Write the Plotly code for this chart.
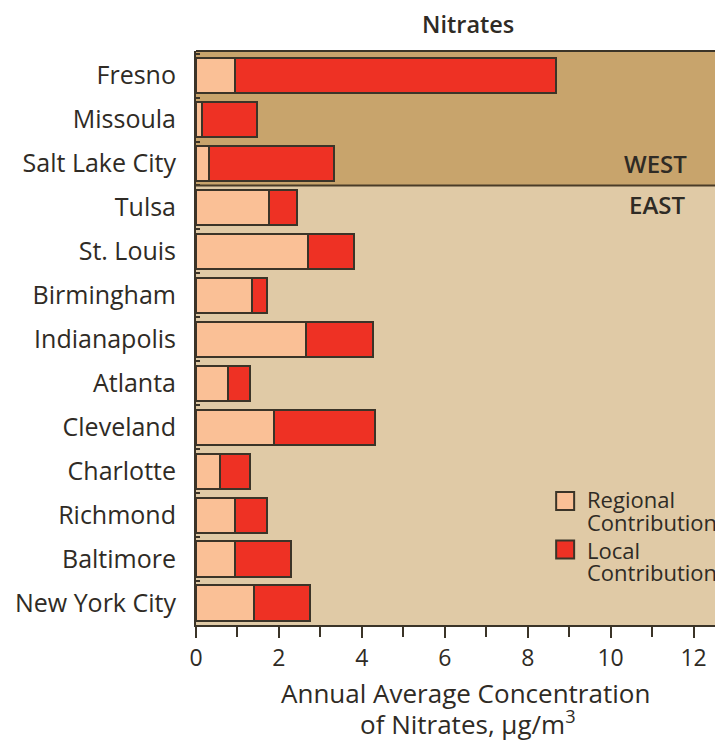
import plotly.graph_objects as go

cities = ["Fresno", "Missoula", "Salt Lake City", "Tulsa", "St. Louis", "Birmingham",
          "Indianapolis", "Atlanta", "Cleveland", "Charlotte", "Richmond", "Baltimore",
          "New York City"]
regional = [0.94, 0.15, 0.31, 1.77, 2.69, 1.35, 2.65, 0.78, 1.87, 0.57, 0.94, 0.94, 1.40]
local = [7.74, 1.31, 3.01, 0.67, 1.11, 0.37, 1.61, 0.52, 2.44, 0.74, 0.78, 1.34, 1.34]
x_ticks = [0, 2, 4, 6, 8, 10, 12]

FONT = "Open Sans"
DARK = "#2f2b25"
OUTLINE = "#3b3428"
REG_COLOR = "#fac096"
LOC_COLOR = "#ee3124"
WEST_BG = "#c8a46c"
EAST_BG = "#e0caa6"

# page body has an 8px margin; positions below are given in page pixels
OFF = 8
W, H = 715, 736
L, R, T, B = 187.5, 0, 43, 119
pw = W - L - R
ph = H - T - B


def px_x(page_x):
    return (page_x - OFF - L) / pw


def px_y(page_y):
    return 1 - (page_y - OFF - T) / ph


fig = go.Figure()
fig.add_trace(go.Bar(y=cities, x=regional, orientation="h", name="Regional Contribution",
                     marker=dict(color=REG_COLOR, line=dict(color=OUTLINE, width=2)),
                     width=0.8, showlegend=False))
fig.add_trace(go.Bar(y=cities, x=local, orientation="h", name="Local Contribution",
                     marker=dict(color=LOC_COLOR, line=dict(color=OUTLINE, width=2)),
                     width=0.8, showlegend=False))

shapes = [
    dict(type="rect", xref="paper", yref="y", x0=0, x1=1, y0=-0.56, y1=2.5,
         fillcolor=WEST_BG, line=dict(width=0), layer="below"),
    dict(type="line", xref="paper", yref="y", x0=0, x1=1, y0=2.5, y1=2.5,
         line=dict(color="#4a3c28", width=2), layer="above"),
    dict(type="line", xref="paper", yref="paper", x0=0, x1=1, y0=1, y1=1,
         line=dict(color=OUTLINE, width=2), layer="above"),
]

annotations = []
legend_items = [(["Regional", "Contribution"], REG_COLOR, 501, [498, 520.5]),
                (["Local", "Contribution"], LOC_COLOR, 549.5, [548.5, 570.5])]
for lines, col, yc, ys in legend_items:
    shapes.append(dict(type="rect", xref="paper", yref="paper",
                       x0=px_x(556), x1=px_x(574), y0=px_y(yc + 9), y1=px_y(yc - 9),
                       fillcolor=col, line=dict(color=OUTLINE, width=2)))
    for txt, yy in zip(lines, ys):
        annotations.append(dict(xref="paper", yref="paper", x=px_x(585), y=px_y(yy + 1),
                                text=txt, showarrow=False, xanchor="left", yanchor="middle",
                                font=dict(family=FONT, size=22, color=DARK)))

annotations += [
    dict(xref="paper", yref="y", x=px_x(655), y=1.99, text="WEST", showarrow=False,
         xanchor="center", yanchor="middle",
         font=dict(family=FONT, size=24, color=DARK, weight=600)),
    dict(xref="paper", yref="y", x=px_x(657), y=2.94, text="EAST", showarrow=False,
         xanchor="center", yanchor="middle",
         font=dict(family=FONT, size=24, color=DARK, weight=600)),
    dict(xref="paper", yref="paper", x=px_x(468), y=px_y(24), text="Nitrates",
         showarrow=False, xanchor="center", yanchor="middle",
         font=dict(family=FONT, size=23.5, color=DARK, weight=600)),
    dict(xref="paper", yref="paper", x=px_x(465), y=px_y(693),
         text="Annual Average Concentration",
         showarrow=False, xanchor="center", yanchor="middle",
         font=dict(family=FONT, size=26, color=DARK)),
    dict(xref="paper", yref="paper", x=px_x(468), y=px_y(723),
         text="of Nitrates, \u03bcg/m<sup>3</sup>",
         showarrow=False, xanchor="center", yanchor="middle",
         font=dict(family=FONT, size=26, color=DARK)),
]

fig.update_layout(
    width=W, height=H, barmode="stack",
    margin=dict(l=L, r=R, t=T, b=B, pad=0),
    paper_bgcolor="white", plot_bgcolor=EAST_BG,
    font=dict(family=FONT, size=23, color=DARK),
    shapes=shapes, annotations=annotations,
)
fig.update_xaxes(range=[0, 12.71], tickvals=x_ticks, ticktext=[str(v) for v in x_ticks],
                 ticks="outside", ticklen=11, tickwidth=2, tickcolor=OUTLINE,
                 minor=dict(dtick=1, tick0=0, ticks="outside", ticklen=10, tickwidth=2,
                            tickcolor=OUTLINE),
                 showline=True, linecolor=OUTLINE, linewidth=2, showgrid=False, zeroline=False,
                 tickfont=dict(family=FONT, size=23, color=DARK))
fig.update_yaxes(type="category", categoryorder="array", categoryarray=cities,
                 range=[12.5, -0.56], ticks="inside", tickson="boundaries", ticklen=4,
                 tickwidth=2, tickcolor=OUTLINE, showline=True, linecolor=OUTLINE, linewidth=2,
                 showgrid=False, zeroline=False, ticklabelstandoff=13,
                 tickfont=dict(family=FONT, size=25, color=DARK))

fig.write_html("out.html")
